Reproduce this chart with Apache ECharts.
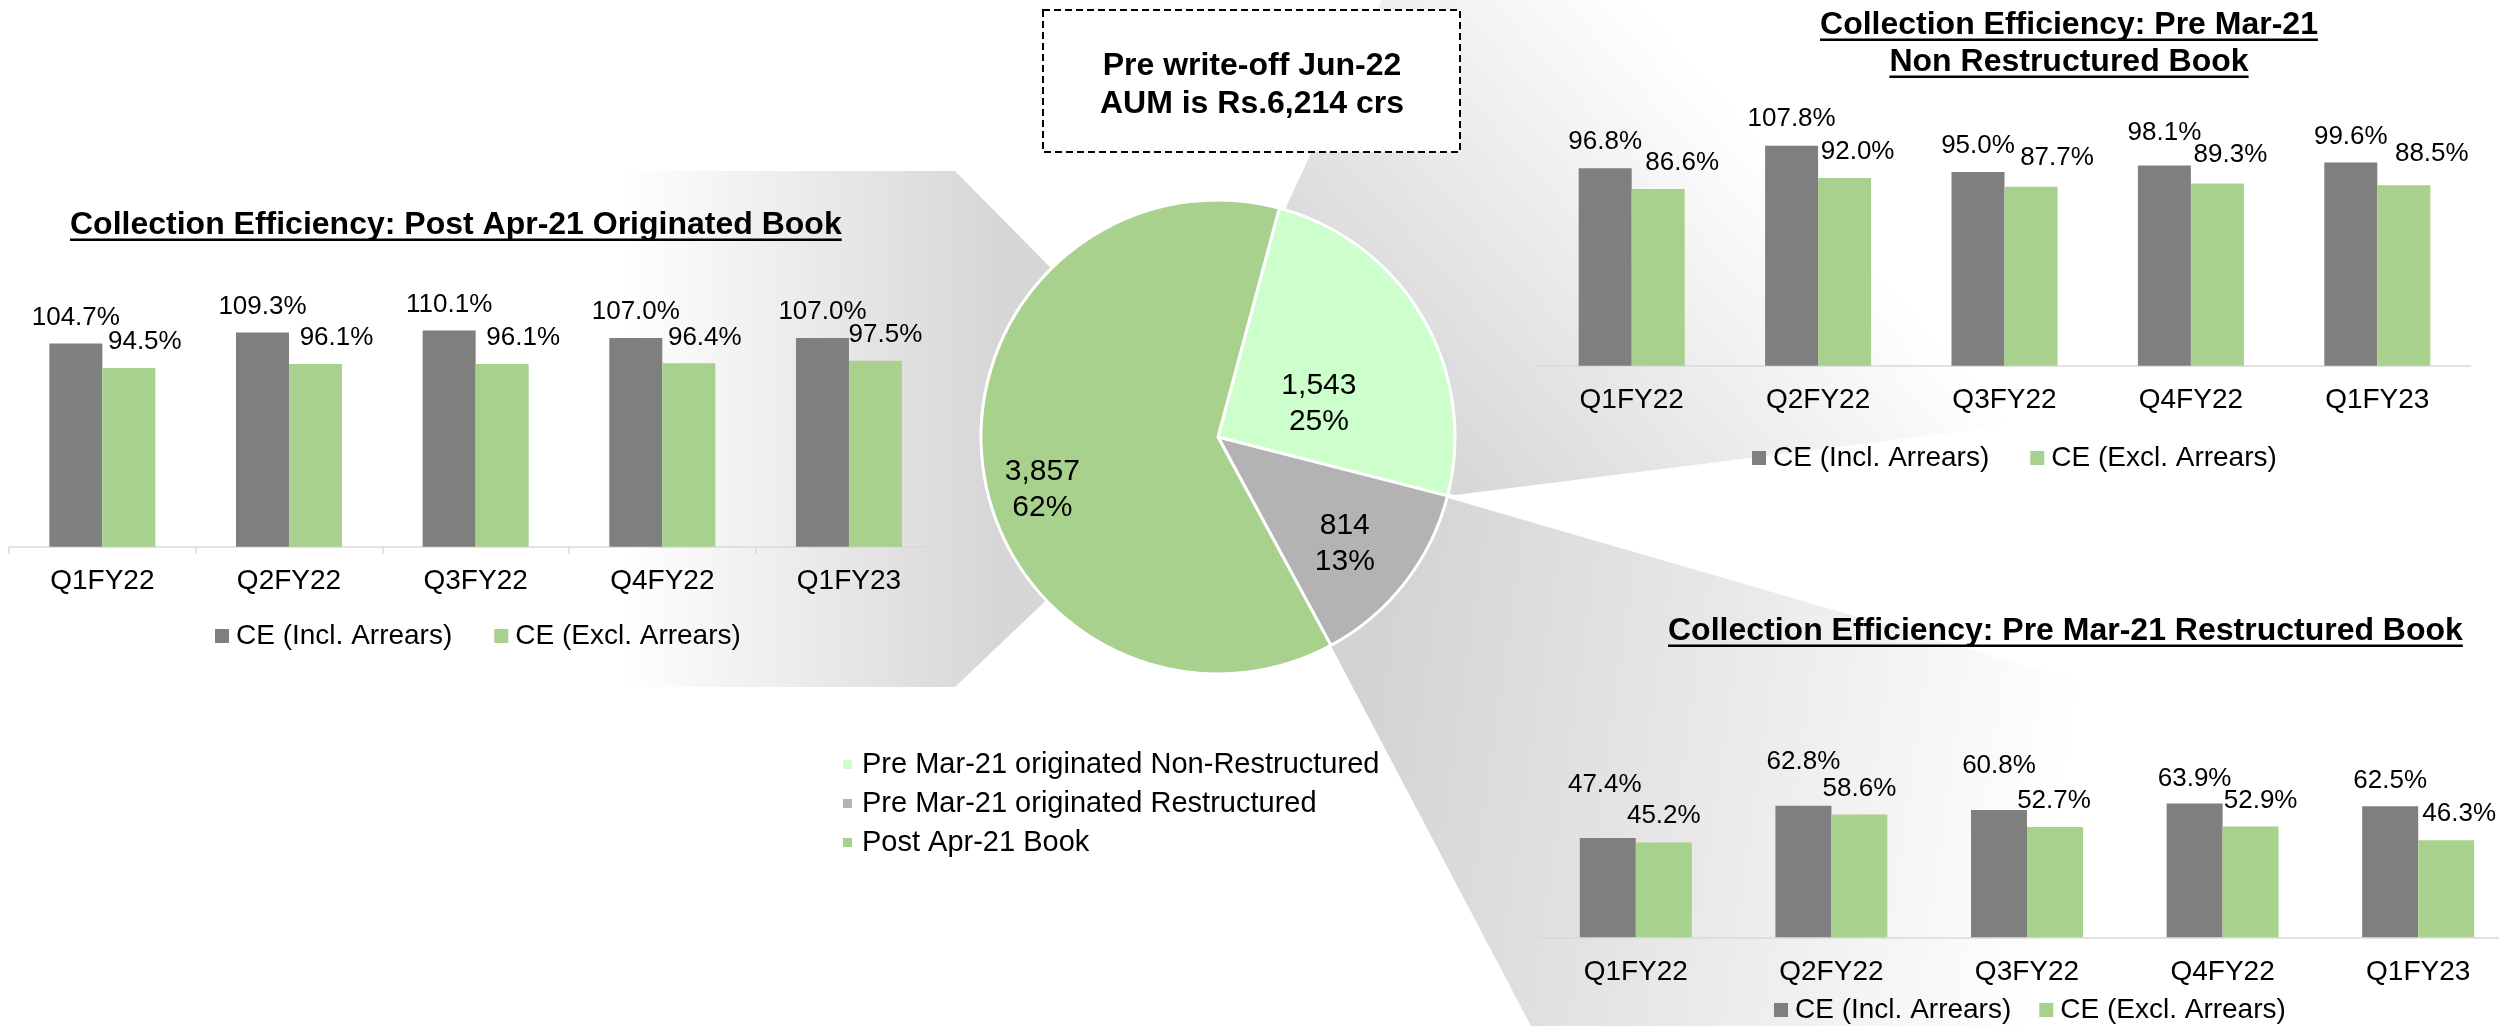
<!DOCTYPE html>
<html>
<head>
<meta charset="utf-8">
<title>Collection Efficiency</title>
<script src="https://cdn.jsdelivr.net/npm/echarts@6/dist/echarts.min.js"></script>
<style>
  html, body { margin: 0; padding: 0; background: #fff; }
  #main { width: 2499px; height: 1026px; }
</style>
</head>
<body>
<div id="main"></div>
<script>
var quarters = ['Q1FY22', 'Q2FY22', 'Q3FY22', 'Q4FY22', 'Q1FY23'];
var ceNames = ['CE (Incl. Arrears)', 'CE (Excl. Arrears)'];

// Post Apr-21 originated book
var postIncl = [104.7, 109.3, 110.1, 107.0, 107.0];
var postExcl = [94.5, 96.1, 96.1, 96.4, 97.5];

// Pre Mar-21 non restructured book
var nonRestrIncl = [96.8, 107.8, 95.0, 98.1, 99.6];
var nonRestrExcl = [86.6, 92.0, 87.7, 89.3, 88.5];

// Pre Mar-21 restructured book
var restrIncl = [47.4, 62.8, 60.8, 63.9, 62.5];
var restrExcl = [45.2, 58.6, 52.7, 52.9, 46.3];

// Jun-22 AUM split (Rs crs)
var bookNames = ['Pre Mar-21 originated Non-Restructured', 'Pre Mar-21 originated Restructured', 'Post Apr-21 Book'];
var bookAum = [1543, 814, 3857];

var FONT = '"Liberation Sans", Arial, sans-serif';
var GREY = '#7f7f7f';
var GREEN = '#a9d18e';
var PIE_COLORS = ['#ccffcc', '#b3b3b3', '#a9d18e'];

// the data labels were hand-moved on the slide, so nudge them the same way
var nudge = {
  postIncl: [[0, 0], [0, 0], [0, 0], [0, 0], [0, 0]],
  postExcl: [[16, 0], [21, 0], [21, 0], [16, 0], [10, 0]],
  nonIncl: [[0, 0], [0, -1], [0, 0], [0, -7], [0, 0]],
  nonExcl: [[24, 0], [13, 0], [26, -3], [13, -3], [28, -5]],
  resIncl: [[-3, -27], [0, -18], [0, -18], [0, 1], [0, 0]],
  resExcl: [[0, -1], [0, 0], [-1, 0], [10, 0], [13, 0]]
};
var pieNudge = [[-4, 28], [31, 32], [-55, 39]];

function barSeries(name, values, color, idx, moves, width) {
  return {
    type: 'bar',
    name: name,
    xAxisIndex: idx,
    yAxisIndex: idx,
    data: values,
    barWidth: width,
    barGap: '0%',
    itemStyle: { color: color },
    emphasis: { disabled: true },
    label: {
      show: true,
      position: 'top',
      distance: 13,
      fontSize: 26,
      fontFamily: FONT,
      color: '#000',
      formatter: function (p) { return p.value.toFixed(1) + '%'; }
    },
    labelLayout: function (p) {
      return { dx: moves[p.dataIndex][0], dy: moves[p.dataIndex][1] };
    }
  };
}

function catAxis(idx, ticks) {
  return {
    type: 'category',
    gridIndex: idx,
    data: quarters,
    axisLine: { lineStyle: { color: '#d9d9d9', width: 1.5 } },
    axisTick: { show: ticks, length: 7, lineStyle: { color: '#d9d9d9', width: 1.5 } },
    axisLabel: { fontSize: 28, fontFamily: FONT, color: '#000', margin: 21 }
  };
}

function valAxis(idx, min, max) {
  return { type: 'value', gridIndex: idx, min: min, max: max, show: false };
}

function ceLegend(left, top, gap) {
  return {
    data: ceNames,
    left: left,
    top: top,
    padding: 0,
    icon: 'rect',
    itemWidth: 14,
    itemHeight: 14,
    itemGap: gap,
    selectedMode: false,
    textStyle: { fontSize: 28, fontFamily: FONT, color: '#000', padding: [0, 0, 0, 2] }
  };
}

var measureCtx = document.createElement('canvas').getContext('2d');
function textWidth(text, font) {
  measureCtx.font = font;
  return measureCtx.measureText(text).width;
}

var TITLE_FONT = 'bold 32px ' + FONT;
var BOX_FONT = 'bold 32px ' + FONT;

// underlined headings: [text, x, centreY, align]
var headings = [
  ['Collection Efficiency: Post Apr-21 Originated Book', 70, 225, 'left'],
  ['Collection Efficiency: Pre Mar-21', 2069, 25, 'center'],
  ['Non Restructured Book', 2069, 62, 'center'],
  ['Collection Efficiency: Pre Mar-21 Restructured Book', 1668, 631, 'left']
];

var graphics = [
  {
    type: 'polygon', z: 0, silent: true,
    shape: { points: [[0, 171], [955, 171], [1218, 437], [955, 687], [0, 687]] },
    style: {
      fill: new echarts.graphic.LinearGradient(620, 0, 1000, 0, [
        { offset: 0, color: '#ffffff' },
        { offset: 1, color: '#d6d6d6' }
      ], true)
    }
  },
  {
    type: 'polygon', z: 0, silent: true,
    shape: { points: [[1218, 437], [1287, 205], [1382, 0], [2499, 0], [2499, 364], [1455, 495]] },
    style: {
      fill: new echarts.graphic.LinearGradient(1430, 470, 1780, 160, [
        { offset: 0, color: '#d6d6d6' },
        { offset: 1, color: '#ffffff' }
      ], true)
    }
  },
  {
    type: 'polygon', z: 0, silent: true,
    shape: { points: [[1218, 437], [1448, 498], [2499, 803], [2499, 1026], [1531, 1026], [1331, 646]] },
    style: {
      fill: new echarts.graphic.LinearGradient(1380, 600, 2080, 700, [
        { offset: 0, color: '#d3d3d3' },
        { offset: 1, color: '#ffffff' }
      ], true)
    }
  },
  {
    type: 'rect', z: 10, silent: true,
    shape: { x: 1043, y: 10, width: 417, height: 142 },
    style: { fill: '#fff', stroke: '#000', lineWidth: 2, lineDash: [7, 4] }
  },
  {
    type: 'text', z: 11, silent: true,
    style: { text: 'Pre write-off Jun-22', x: 1252, y: 66, font: BOX_FONT, fill: '#000', align: 'center', verticalAlign: 'middle' }
  },
  {
    type: 'text', z: 11, silent: true,
    style: { text: 'AUM is Rs.6,214 crs', x: 1252, y: 104.5, font: BOX_FONT, fill: '#000', align: 'center', verticalAlign: 'middle' }
  }
];

headings.forEach(function (h) {
  var w = textWidth(h[0], TITLE_FONT);
  var x0 = h[3] === 'center' ? h[1] - w / 2 : h[1];
  graphics.push({
    type: 'text', z: 11, silent: true,
    style: { text: h[0], x: h[1], y: h[2], font: TITLE_FONT, fill: '#000', align: h[3], verticalAlign: 'middle' }
  });
  graphics.push({
    type: 'rect', z: 11, silent: true,
    shape: { x: x0, y: h[2] + 13.5, width: w, height: 2.5 },
    style: { fill: '#000' }
  });
});

var option = {
  animation: false,
  backgroundColor: '#fff',
  graphic: graphics,
  grid: [
    { left: 9, top: 306.7, width: 933.3, height: 240, containLabel: false, outerBoundsMode: 'none' },
    { left: 1538.5, top: 120.9, width: 932, height: 244.8, containLabel: false, outerBoundsMode: 'none' },
    { left: 1538, top: 769.7, width: 978, height: 167.6, containLabel: false, outerBoundsMode: 'none' }
  ],
  xAxis: [catAxis(0, true), catAxis(1, false), catAxis(2, false)],
  yAxis: [valAxis(0, 20, 120), valAxis(1, 0, 120), valAxis(2, 0, 80)],
  legend: [
    ceLegend(215, 622, 42),
    ceLegend(1752, 444, 41),
    ceLegend(1774, 996, 28),
    {
      data: bookNames,
      orient: 'vertical',
      left: 841,
      top: 750,
      padding: 0,
      icon: 'rect',
      itemWidth: 11,
      itemHeight: 11,
      itemGap: 10,
      selectedMode: false,
      textStyle: { fontSize: 29, fontFamily: FONT, color: '#000', padding: [0, 0, 0, 4] }
    }
  ],
  series: [
    barSeries(ceNames[0], postIncl, GREY, 0, nudge.postIncl, 53),
    barSeries(ceNames[1], postExcl, GREEN, 0, nudge.postExcl, 53),
    barSeries(ceNames[0], nonRestrIncl, GREY, 1, nudge.nonIncl, 53),
    barSeries(ceNames[1], nonRestrExcl, GREEN, 1, nudge.nonExcl, 53),
    barSeries(ceNames[0], restrIncl, GREY, 2, nudge.resIncl, 56),
    barSeries(ceNames[1], restrExcl, GREEN, 2, nudge.resExcl, 56),
    {
      type: 'pie',
      center: [1218, 437],
      radius: 237,
      startAngle: 75,
      clockwise: true,
      silent: true,
      z: 5,
      data: bookNames.map(function (n, i) {
        return { name: n, value: bookAum[i], itemStyle: { color: PIE_COLORS[i] } };
      }),
      itemStyle: { borderColor: '#fff', borderWidth: 3 },
      label: {
        show: true,
        position: 'inside',
        fontSize: 30,
        lineHeight: 36,
        fontFamily: FONT,
        color: '#000',
        formatter: function (p) {
          return p.value.toLocaleString('en-US') + '\n' + Math.round(p.percent) + '%';
        }
      },
      labelLine: { show: false },
      labelLayout: function (p) {
        return { dx: pieNudge[p.dataIndex][0], dy: pieNudge[p.dataIndex][1] };
      },
      emphasis: { disabled: true }
    }
  ]
};

echarts.init(document.getElementById('main')).setOption(option);
</script>
</body>
</html>
